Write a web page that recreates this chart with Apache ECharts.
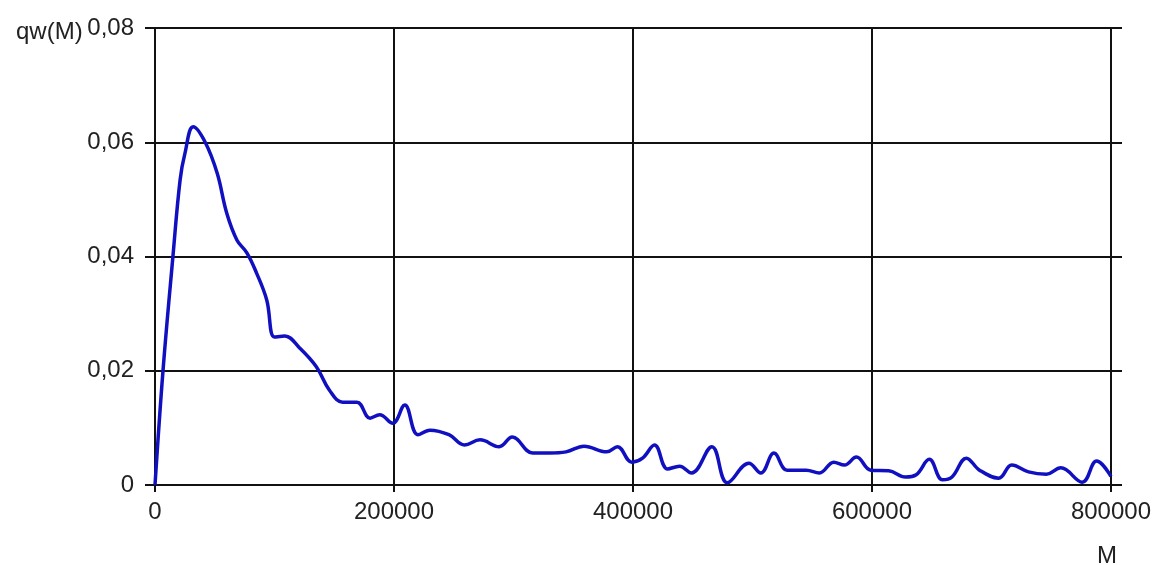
<!DOCTYPE html>
<html>
<head>
<meta charset="utf-8">
<script src="https://cdn.jsdelivr.net/npm/echarts@6/dist/echarts.min.js"></script>
<style>
html,body{margin:0;padding:0;background:#fff;}
#c{width:1154px;height:565px;}
</style>
</head>
<body>
<div id="c"></div>
<script>
// M values (x) and qw(M) values (y)
const mValues = [0, 6700, 15000, 21000, 25000, 32000, 42000, 52000, 60000, 68500, 77000, 85000, 93500, 100000, 108700, 121000, 135000, 146000, 157000, 169000, 180000, 188000, 199000, 209000, 220000, 230000, 246000, 259000, 272000, 288000, 299000, 316000, 330000, 344000, 359000, 378000, 387000, 399000, 408000, 418000, 429000, 439000, 449000, 466000, 479000, 497000, 507000, 518000, 529000, 545000, 556000, 568000, 577000, 587000, 599000, 614000, 628000, 637000, 648000, 659000, 667000, 679000, 690000, 706000, 717000, 731000, 746000, 758000, 776000, 788000, 800000];
const qwValues = [0, 0.02, 0.04, 0.0534, 0.058, 0.0627, 0.060, 0.0546, 0.0476, 0.0429, 0.0406, 0.0371, 0.0324, 0.0259, 0.0261, 0.024, 0.0207, 0.0166, 0.0145, 0.0145, 0.0117, 0.0123, 0.0108, 0.014, 0.0088, 0.0096, 0.0088, 0.007, 0.0079, 0.0067, 0.0084, 0.0056, 0.0056, 0.0058, 0.0068, 0.0058, 0.0067, 0.0040, 0.0047, 0.007, 0.0028, 0.0033, 0.0021, 0.0067, 0.0004, 0.0038, 0.0021, 0.0056, 0.0026, 0.0026, 0.0021, 0.004, 0.0035, 0.0049, 0.0026, 0.0025, 0.0014, 0.0018, 0.0045, 0.0009, 0.0014, 0.0047, 0.0026, 0.0012, 0.0035, 0.0023, 0.0019, 0.003, 0.0005, 0.0042, 0.0015];
const xTicks = [0, 200000, 400000, 600000, 800000];
const yTicks = [0, 0.02, 0.04, 0.06, 0.08];

const data = mValues.map((m, i) => [m, qwValues[i]]);
const FONT = 'Arial, "Liberation Sans", sans-serif';
const TXT = '#222';
const LINE = '#111';

const chart = echarts.init(document.getElementById('c'), null, {renderer: 'canvas'});
chart.setOption({
  animation: false,
  backgroundColor: '#fff',
  title: [
    {text: 'qw(M)', left: 11, top: 15, textStyle: {fontFamily: FONT, fontSize: 24, fontWeight: 'normal', color: TXT}},
    {text: 'M', left: 1092, top: 539, textStyle: {fontFamily: FONT, fontSize: 24, fontWeight: 'normal', color: TXT}}
  ],
  grid: [
    {left: 155, right: 42, top: 28, bottom: 80, containLabel: false},
    {left: 155, right: 32, top: 28, bottom: 80, containLabel: false}
  ],
  xAxis: [
    {
      type: 'value', gridIndex: 0,
      min: xTicks[0], max: xTicks[xTicks.length - 1], interval: xTicks[1] - xTicks[0],
      axisLine: {show: false},
      axisTick: {show: true, length: 7, lineStyle: {color: LINE, width: 2}},
      splitLine: {show: true, lineStyle: {color: LINE, width: 2}},
      axisLabel: {fontFamily: FONT, fontSize: 24, color: TXT, margin: 15, formatter: v => String(v)}
    },
    {
      type: 'value', gridIndex: 1, min: 0, max: 1, show: false
    }
  ],
  yAxis: [
    {
      type: 'value', gridIndex: 0,
      min: yTicks[0], max: yTicks[yTicks.length - 1], interval: yTicks[1] - yTicks[0],
      axisLine: {show: false}, axisTick: {show: false}, splitLine: {show: false},
      axisLabel: {show: false}
    },
    {
      type: 'value', gridIndex: 1,
      min: yTicks[0], max: yTicks[yTicks.length - 1], interval: yTicks[1] - yTicks[0],
      axisLine: {show: false},
      axisTick: {show: true, length: 10, lineStyle: {color: LINE, width: 2}},
      splitLine: {show: true, lineStyle: {color: LINE, width: 2}},
      axisLabel: {fontFamily: FONT, fontSize: 24, color: TXT, margin: 21,
        formatter: v => v === 0 ? '0' : v.toFixed(2).replace('.', ',')}
    }
  ],
  series: [{
    type: 'line', xAxisIndex: 0, yAxisIndex: 0,
    data: data, smooth: 0.4, showSymbol: false, symbol: 'none',
    lineStyle: {color: '#1010c0', width: 3.5},
    z: 5
  }]
});
</script>
</body>
</html>
